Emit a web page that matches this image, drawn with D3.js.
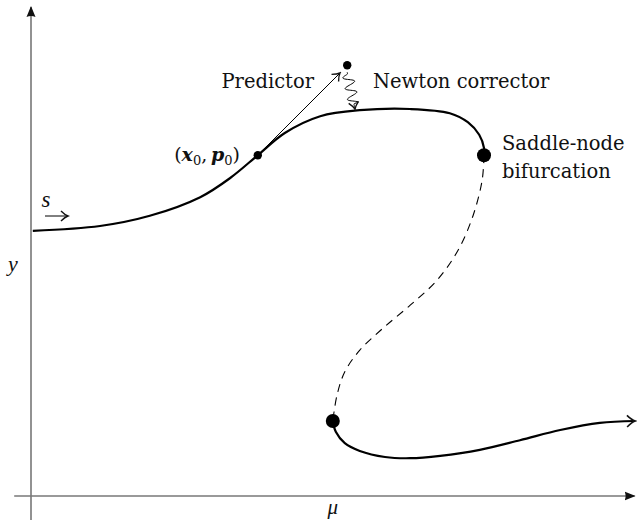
<!DOCTYPE html>
<html>
<head>
<meta charset="utf-8">
<script src="https://cdn.jsdelivr.net/npm/d3@7"></script>
<style>
  body { margin: 0; background: #fff; }
  text { font-family: "DejaVu Serif", serif; fill: #111; }
  .math { font-family: "Liberation Serif", serif; font-style: italic; }
</style>
</head>
<body>
<div id="chart"></div>
<script>
// Branches of the solution curve, [mu, y] in axis units.
const upperBranch = [
  [0.03, 4.42], [1.15, 4.50], [1.98, 4.67], [2.82, 4.98], [3.32, 5.30],
  [3.78, 5.68], [4.23, 6.05], [4.82, 6.33], [5.48, 6.43], [6.32, 6.45],
  [6.98, 6.38], [7.28, 6.23], [7.47, 6.02], [7.55, 5.80], [7.55, 5.68]
];
const unstableBranch = [
  [7.55, 5.68], [7.52, 5.27], [7.37, 4.68], [7.12, 4.10], [6.77, 3.60],
  [6.32, 3.18], [5.87, 2.80], [5.48, 2.43], [5.23, 2.07], [5.10, 1.68], [5.03, 1.25]
];
const lowerBranch = [
  [5.03, 1.25], [5.08, 1.07], [5.23, 0.88], [5.48, 0.75], [5.90, 0.65],
  [6.32, 0.63], [6.82, 0.67], [7.48, 0.77], [8.15, 0.93], [8.82, 1.10],
  [9.48, 1.22], [10.07, 1.25]
];
const startPoint = [3.78, 5.68];      // (x0, p0)
const predictedPoint = [5.27, 7.18];  // end of predictor step
const predictorTip = [5.15, 7.05];
const correctorEnd = [5.40, 6.43];
const foldPoints = [[7.55, 5.68], [5.03, 1.25]];

const width = 637;
const height = 523;
const axisX = 31;
const axisY = 496;

const svg = d3.select("#chart")
  .append("svg")
  .attr("width", width)
  .attr("height", height);

// Scales: one axis unit = 60px.
const x = d3.scaleLinear().domain([0, 10]).range([axisX, axisX + 600]);
const y = d3.scaleLinear().domain([0, 8]).range([axisY, axisY - 480]);

const defs = svg.append("defs");

// Filled triangle for the axes.
defs.append("marker")
  .attr("id", "axisHead")
  .attr("viewBox", "-10 -6 12 12")
  .attr("refX", 0).attr("refY", 0)
  .attr("markerWidth", 12).attr("markerHeight", 12)
  .attr("markerUnits", "userSpaceOnUse")
  .attr("orient", "auto")
  .append("path")
  .attr("d", "M -10 -4.5 L 1 0 L -10 4.5 Q -8 0 -10 -4.5 Z")
  .attr("fill", "#111");

// Open "to" arrow heads.
const openHead = (id, size) => defs.append("marker")
  .attr("id", id)
  .attr("viewBox", "-10 -6 12 12")
  .attr("refX", 0).attr("refY", 0)
  .attr("markerWidth", size).attr("markerHeight", size)
  .attr("markerUnits", "userSpaceOnUse")
  .attr("orient", "auto")
  .append("path")
  .attr("d", "M -7 -5 Q -3 -1 0 0 Q -3 1 -7 5")
  .attr("fill", "none")
  .attr("stroke", "#111")
  .attr("stroke-width", 1.4);
openHead("toHead", 12);
openHead("toHeadBig", 14);

// Axes.
svg.append("line")
  .attr("x1", x(0)).attr("x2", x(0))
  .attr("y1", y(-0.4)).attr("y2", y(8.15))
  .attr("stroke", "#777").attr("stroke-width", 1.6)
  .attr("marker-end", "url(#axisHead)");

svg.append("line")
  .attr("x1", x(-0.28)).attr("x2", x(10.06))
  .attr("y1", y(0)).attr("y2", y(0))
  .attr("stroke", "#777").attr("stroke-width", 1.6)
  .attr("marker-end", "url(#axisHead)");

svg.append("text").attr("class", "math")
  .attr("x", x(5.03)).attr("y", y(0) + 18)
  .attr("text-anchor", "middle").attr("font-size", 21)
  .text("μ");

svg.append("text").attr("class", "math")
  .attr("x", 13).attr("y", y(3.75))
  .attr("text-anchor", "middle").attr("font-size", 22)
  .text("y");

const line = d3.line()
  .x(d => x(d[0]))
  .y(d => y(d[1]))
  .curve(d3.curveCatmullRom.alpha(0.5));

svg.append("path")
  .datum(upperBranch)
  .attr("d", line)
  .attr("fill", "none").attr("stroke", "#000").attr("stroke-width", 2.2);

svg.append("path")
  .datum(unstableBranch)
  .attr("d", line)
  .attr("fill", "none").attr("stroke", "#000").attr("stroke-width", 1.1)
  .attr("stroke-dasharray", "8,6");

svg.append("path")
  .datum(lowerBranch)
  .attr("d", line)
  .attr("fill", "none").attr("stroke", "#000").attr("stroke-width", 2.2)
  .attr("marker-end", "url(#toHeadBig)");

// Predictor step.
svg.append("line")
  .attr("x1", x(startPoint[0])).attr("y1", y(startPoint[1]))
  .attr("x2", x(predictorTip[0])).attr("y2", y(predictorTip[1]))
  .attr("stroke", "#000").attr("stroke-width", 1)
  .attr("marker-end", "url(#toHead)");

// Newton corrector: a snake from the predicted point to the curve.
const p0 = [x(predictedPoint[0]), y(predictedPoint[1]) + 7];
const p1 = [x(correctorEnd[0]), y(correctorEnd[1]) - 1];
const dx = p1[0] - p0[0], dy = p1[1] - p0[1];
const len = Math.hypot(dx, dy);
const ux = dx / len, uy = dy / len;
const snake = d3.range(0, 81).map(i => {
  const t = i / 80 * len;
  let amp = 0;
  if (t > 2 && t < len - 6) amp = 5.5 * Math.sin((t - 2) / 11 * 2 * Math.PI);
  return [p0[0] + ux * t - uy * amp, p0[1] + uy * t + ux * amp];
});
svg.append("path")
  .attr("d", d3.line().curve(d3.curveBasis)(snake))
  .attr("fill", "none").attr("stroke", "#000").attr("stroke-width", 1)
  .attr("marker-end", "url(#toHead)");

// Points.
svg.append("circle")
  .attr("cx", x(startPoint[0])).attr("cy", y(startPoint[1]))
  .attr("r", 4.2).attr("fill", "#000");
svg.append("circle")
  .attr("cx", x(predictedPoint[0])).attr("cy", y(predictedPoint[1]))
  .attr("r", 4.2).attr("fill", "#000");
svg.selectAll("circle.fold")
  .data(foldPoints)
  .enter()
  .append("circle")
  .attr("class", "fold")
  .attr("cx", d => x(d[0])).attr("cy", d => y(d[1]))
  .attr("r", 7).attr("fill", "#000");

// Labels.
svg.append("text")
  .attr("x", 314).attr("y", 88)
  .attr("text-anchor", "end").attr("font-size", 19.5)
  .text("Predictor");

svg.append("text")
  .attr("x", 373).attr("y", 88)
  .attr("font-size", 19.5)
  .text("Newton corrector");

svg.append("text")
  .attr("x", 502).attr("y", 150)
  .attr("font-size", 19.5)
  .text("Saddle-node");

svg.append("text")
  .attr("x", 502).attr("y", 178)
  .attr("font-size", 19.5)
  .text("bifurcation");

// (x0, p0) label in math style.
const lab = svg.append("text")
  .attr("x", 240).attr("y", 161)
  .attr("text-anchor", "end")
  .attr("font-family", "Liberation Serif, serif")
  .attr("font-size", 19);
lab.append("tspan").attr("font-style", "normal").text("(");
lab.append("tspan").attr("font-style", "italic").attr("font-weight", "bold").text("x");
lab.append("tspan").attr("font-size", 13).attr("dy", 4).text("0");
lab.append("tspan").attr("dy", -4).text(",\u2009");
lab.append("tspan").attr("font-style", "italic").attr("font-weight", "bold").text("p");
lab.append("tspan").attr("font-size", 13).attr("dy", 4).text("0");
lab.append("tspan").attr("dy", -4).text(")");

// Arc length parameter s.
svg.append("text").attr("class", "math")
  .attr("x", 46).attr("y", 207)
  .attr("text-anchor", "middle").attr("font-size", 23)
  .text("s");
svg.append("line")
  .attr("x1", 45).attr("x2", 68)
  .attr("y1", 216).attr("y2", 216)
  .attr("stroke", "#000").attr("stroke-width", 1)
  .attr("marker-end", "url(#toHead)");
</script>
</body>
</html>
